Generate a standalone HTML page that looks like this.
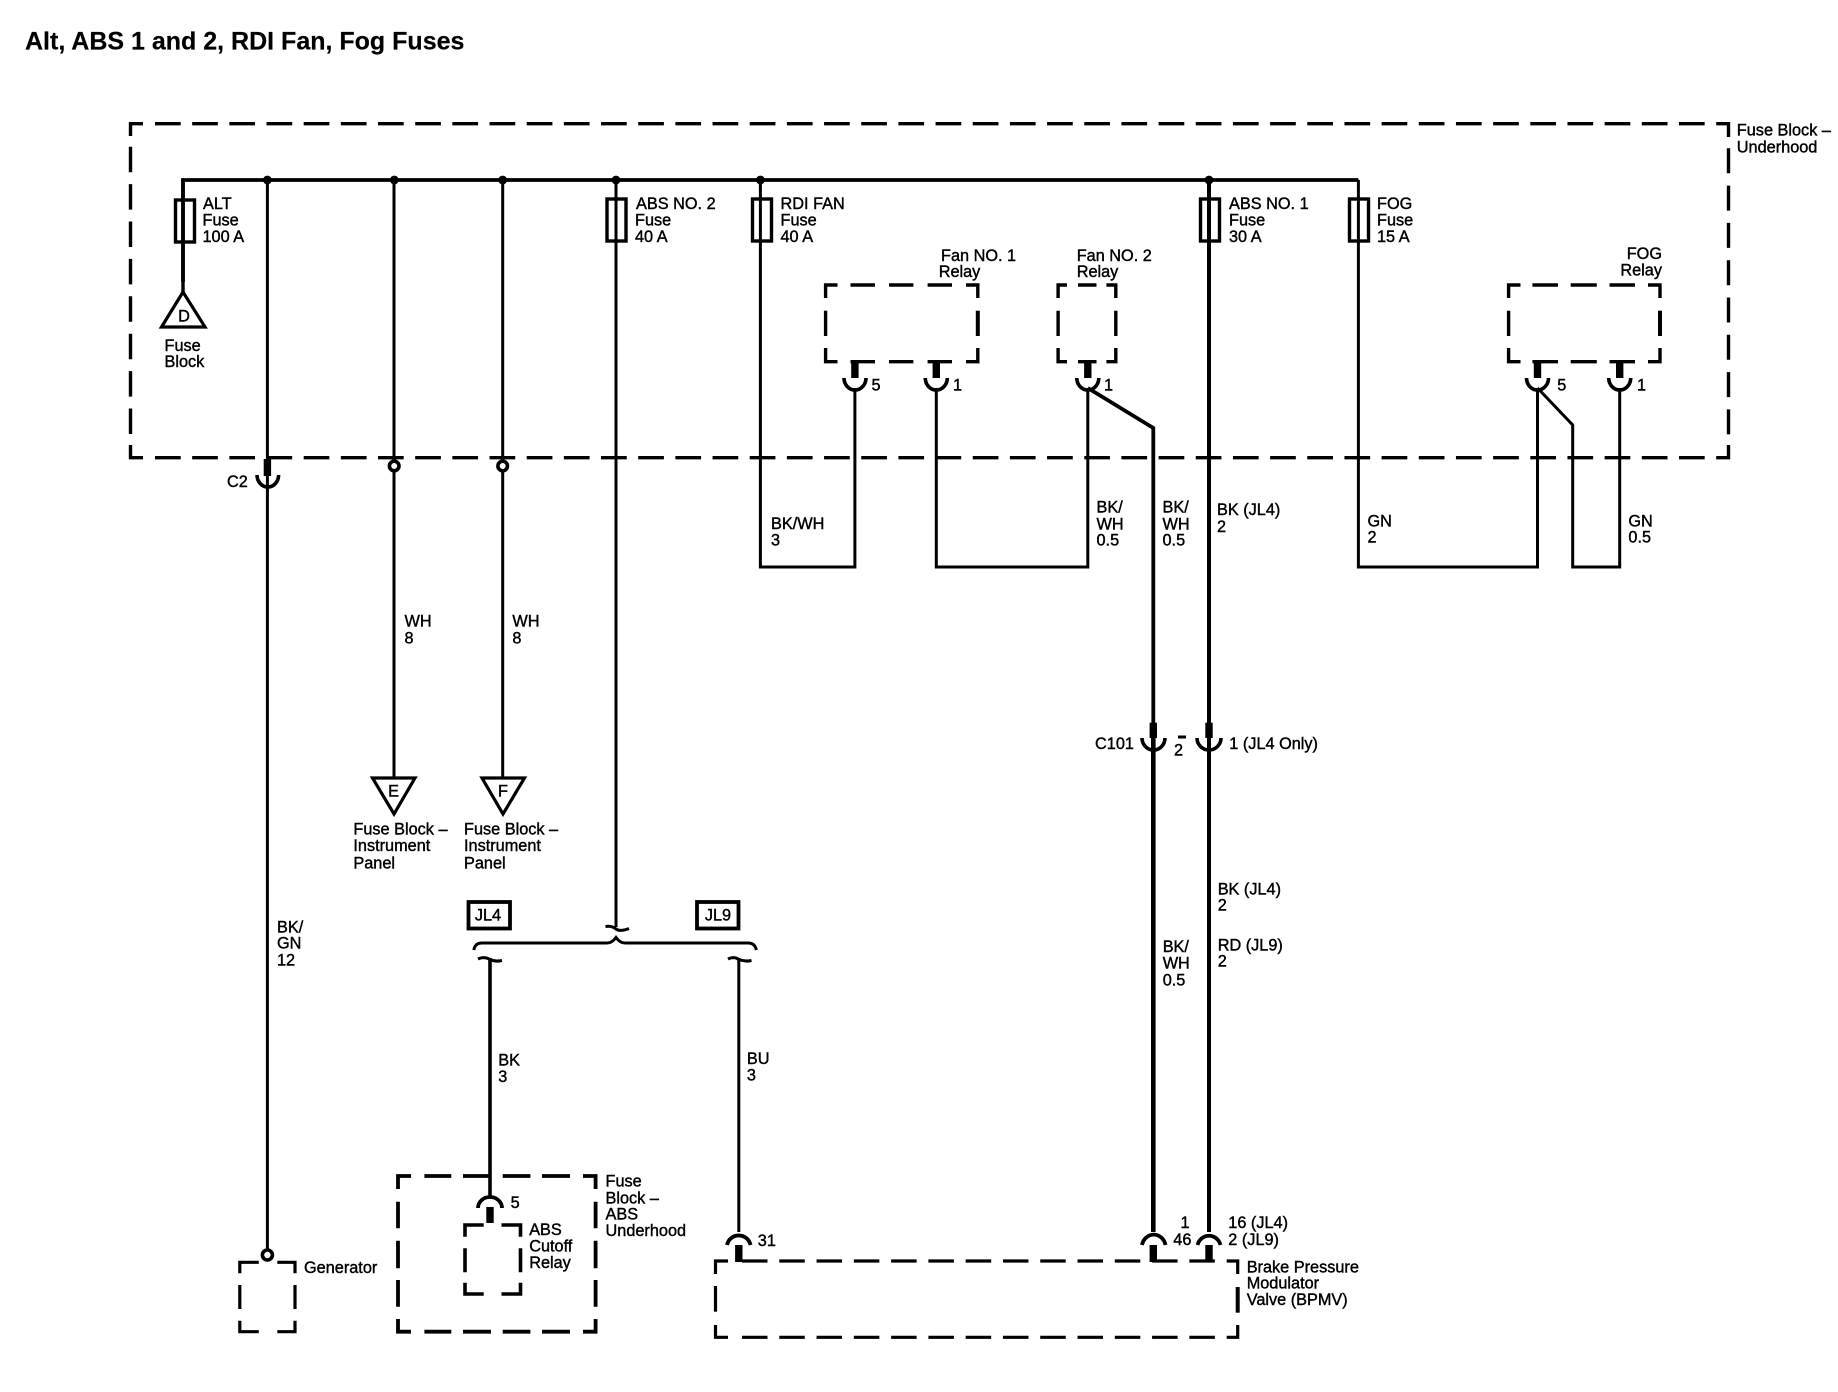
<!DOCTYPE html>
<html><head><meta charset="utf-8"><style>
html,body{margin:0;padding:0;background:#fff}
svg{display:block}
text{font-family:"Liberation Sans",sans-serif;font-size:16.3px;fill:#000;stroke:#000;stroke-width:.4px}
.t{font-size:25px;font-weight:bold;stroke-width:.2px}
.m{text-anchor:middle}
.e{text-anchor:end}
</style></head><body>
<svg width="1838" height="1392" viewBox="0 0 1838 1392" xmlns="http://www.w3.org/2000/svg">
<rect width="1838" height="1392" fill="#fff"/>
<text class="t" x="25" y="49.5">Alt, ABS 1 and 2, RDI Fan, Fog Fuses</text>

<g fill="none" stroke="#000" stroke-linecap="butt" stroke-linejoin="miter">
<!-- outer dashed box -->
<g stroke-width="3.4">
<path d="M143 123.7H130.5V136"/>
<path d="M155 123.7H1716" stroke-dasharray="25.7 11.47"/>
<path d="M1716.2 123.7H1728.5V137"/>
<path d="M1728.5 148.3V445" stroke-dasharray="25 12.3"/>
<path d="M1728.5 445V457.7H1716.2"/>
<path d="M155 457.7H1716" stroke-dasharray="25.7 11.47"/>
<path d="M143 457.7H130.5V445"/>
<path d="M130.5 146.7V445" stroke-dasharray="25.5 11.9"/>
</g>
<!-- Fan 1 relay -->
<g stroke-width="3.4">
<path d="M837.5 285H825.6V298M850.5 285H875M889 285H913.4M927.6 285H952M966 285H977.8V298"/>
<path d="M837.5 361.7H825.6V348M850.5 361.7H875M889 361.7H913.4M927.6 361.7H952M966 361.7H977.8V348"/>
<path d="M825.6 310.7V336"/><path d="M977.8 310.7V336" stroke-width="4"/>
</g>
<!-- Fan 2 relay -->
<g stroke-width="3.4">
<path d="M1067 285H1058.1V298M1078 285H1096.5M1106.4 285H1115.8V298"/>
<path d="M1067 361.7H1058.1V348M1078 361.7H1096.5M1106.4 361.7H1115.8V348"/>
<path d="M1058.1 310.7V336M1115.8 310.7V336"/>
</g>
<!-- FOG relay -->
<g stroke-width="3.4">
<path d="M1520.5 285H1508.6V298M1532.4 285H1558M1570.7 285H1596.8M1609.5 285H1635M1648 285H1660V298"/>
<path d="M1520.5 361.7H1508.6V348M1532.4 361.7H1558M1570.7 361.7H1596.8M1609.5 361.7H1635M1648 361.7H1660V348"/>
<path d="M1508.6 310.7V336"/><path d="M1660 310.7V336" stroke-width="4"/>
</g>
<!-- Generator box -->
<g stroke-width="3.2">
<path d="M258.8 1262.3H239.8V1273.3M277.3 1262.3H295V1273.3"/>
<path d="M239.8 1285V1309M295 1285V1309"/>
<path d="M258.8 1331.7H239.8V1320.7M277.3 1331.7H295V1320.7"/>
</g>
<!-- Fuse Block ABS box -->
<g stroke-width="3.8">
<path d="M411 1176H398V1189M424.4 1176H451.3M463 1176H491M502.7 1176H530.4M542 1176H570M583 1176H595.6V1189"/>
<path d="M398 1201.7V1228.3M398 1240.7V1268.3M398 1280V1306.7M595.6 1201.7V1228.3M595.6 1240.7V1268.3M595.6 1280V1306.7"/>
<path d="M411 1331.7H398V1319M424.4 1331.7H451.3M463 1331.7H491M502.7 1331.7H530.4M542 1331.7H570M583 1331.7H595.6V1319"/>
</g>
<!-- ABS Cutoff relay box -->
<g stroke-width="3.6">
<path d="M483.7 1225H465V1236.7M501.5 1225H520.5V1236.7"/>
<path d="M465 1248.3V1272.3M520.5 1248.3V1272.3"/>
<path d="M483.7 1294H465V1282.7M501.5 1294H520.5V1282.7"/>
</g>
<!-- BPMV box -->
<g stroke-width="3.2">
<path d="M728 1261H715.5V1274M1226.7 1261H1237.7V1274"/>
<path d="M742 1261H1215" stroke-dasharray="25.5 11.78"/>
<path d="M715.5 1286V1311.7"/>
<path d="M1237.7 1287V1312.7" stroke-width="4"/>
<path d="M728 1337.3H715.5V1325M1226.7 1337.3H1237.7V1325"/>
<path d="M742 1337.3H1215" stroke-dasharray="25.5 11.78"/>
</g>

<!-- bus -->
<path d="M183 282V180H1358.4" stroke-width="3.8"/>
<path d="M183 180V292" stroke-width="3.4"/>
<!-- wires -->
<g stroke-width="3">
<path d="M267.4 180V1250"/>
<path d="M394 180V777"/>
<path d="M502.7 180V777"/>
<path d="M616 180V927"/>
<path d="M760.4 180V567H854.9V388"/>
<path d="M936.3 388V567H1087.8V388"/>
<path d="M1358.4 180V567H1537.5V388"/>
<path d="M1619.7 388V567H1572.7V425L1537.5 388"/>
</g>
<path d="M1087.8 388L1153.3 428V725" stroke-width="3.8"/>
<path d="M1153.3 725V1232" stroke-width="4.6"/>
<path d="M1209 180V1232" stroke-width="4"/>
<path d="M490 958V1197" stroke-width="3.6"/>
<path d="M738.8 958V1232" stroke-width="3"/>

<!-- fuses -->
<g stroke-width="3.4" fill="none">
<rect x="175.5" y="200" width="19" height="42"/>
<rect x="607" y="199" width="19" height="42"/>
<rect x="752.5" y="199" width="19" height="42"/>
<rect x="1200.5" y="199" width="19" height="42"/>
<rect x="1349.5" y="199" width="19" height="42"/>
</g>

<!-- triangles -->
<g stroke-width="3.2" fill="#fff">
<path d="M183 292L161.5 327H205Z"/>
<path d="M372.5 778H415L394 814Z"/>
<path d="M482 778H524.5L503 814Z"/>
</g>

<!-- splices -->
<g fill="#000" stroke="none">
<circle cx="267.4" cy="180" r="4.4"/><circle cx="394.3" cy="180" r="4.4"/>
<circle cx="502.7" cy="180" r="4.4"/><circle cx="616" cy="180" r="4.4"/>
<circle cx="760.4" cy="180" r="4.4"/><circle cx="1209" cy="180" r="4.4"/>
</g>

<!-- round terminals -->
<g stroke-width="3.6" fill="#fff">
<circle cx="394.2" cy="466" r="4.8"/>
<circle cx="502.7" cy="466" r="4.8"/>
<circle cx="267.4" cy="1255" r="5"/>
</g>

<!-- pin stubs -->
<g stroke-width="7.4">
<path d="M267.4 459V476"/>
<path d="M854.9 363V378"/><path d="M936.3 363V378"/><path d="M1087.8 363V378"/>
<path d="M1537.5 363V378"/><path d="M1619.7 363V378"/>
<path d="M1153.3 722.7V738"/><path d="M1209 722.7V738"/>
<path d="M490 1207V1223"/><path d="M738.8 1245V1262"/>
<path d="M1153.3 1245V1262"/><path d="M1209 1245V1262"/>
</g>
<!-- cups opening upward -->
<g stroke-width="3.6">
<path d="M257 475A10.8 12 0 0 0 278.6 475"/>
<path d="M844 378A11 12 0 0 0 866 378"/>
<path d="M925.3 378A11 12 0 0 0 947.3 378"/>
<path d="M1076.8 378A11 12 0 0 0 1098.8 378"/>
<path d="M1526.5 378A11 12 0 0 0 1548.5 378"/>
<path d="M1608.7 378A11 12 0 0 0 1630.7 378"/>
<path d="M1142 738A11.5 12 0 0 0 1165 738"/>
<path d="M1197 738A12 12 0 0 0 1221 738"/>
</g>
<path d="M1178 737H1186" stroke-width="3"/>
<!-- cups opening downward -->
<g stroke-width="3.8">
<path d="M478 1208A12 11 0 0 1 502 1208"/>
<path d="M727 1245A12 12 0 0 1 750.5 1245"/>
<path d="M1142 1245A12 13 0 0 1 1165.5 1245"/>
<path d="M1197.5 1245A12 13 0 0 1 1220.5 1245"/>
</g>

<!-- JL bracket -->
<path d="M473.8 950Q475 943 482 943H607Q612 943 616 937.5Q620 943 625 943H748Q755 943 756.3 950" stroke-width="3"/>
<path d="M605.5 926.5Q612 925.5 616 929Q620 932 629 928.5" stroke-width="3"/>
<path d="M478 959Q484 956 490 959.5Q495 962 502 960.5" stroke-width="3"/>
<path d="M728 959Q734 956 739 959.5Q745 962 751.5 960.5" stroke-width="3"/>
<rect x="468.5" y="902" width="41.5" height="26.5" stroke-width="3.8"/>
<rect x="697" y="902" width="41.5" height="26.5" stroke-width="3.8"/>
</g>

<!-- labels -->
<text x="203" y="209">ALT</text><text x="202.5" y="225.5">Fuse</text><text x="202.5" y="242">100 A</text>
<text x="184" y="321.5" class="m">D</text>
<text x="164.5" y="351">Fuse</text><text x="164.5" y="367">Block</text>
<text x="227" y="487">C2</text>
<text x="636" y="209">ABS NO. 2</text><text x="635" y="225.5">Fuse</text><text x="635" y="242">40 A</text>
<text x="780.5" y="209">RDI FAN</text><text x="780.5" y="225.5">Fuse</text><text x="780.5" y="242">40 A</text>
<text x="1229" y="209">ABS NO. 1</text><text x="1229" y="225.5">Fuse</text><text x="1229" y="242">30 A</text>
<text x="1377" y="209">FOG</text><text x="1377" y="225.5">Fuse</text><text x="1377" y="242">15 A</text>
<text x="941" y="261">Fan NO. 1</text><text x="938.7" y="277">Relay</text>
<text x="1076.7" y="261">Fan NO. 2</text><text x="1076.7" y="277">Relay</text>
<text x="1662" y="259" class="e">FOG</text><text x="1662" y="275.7" class="e">Relay</text>
<text x="1736.8" y="135.7">Fuse Block –</text><text x="1736.8" y="152.3">Underhood</text>
<text x="871.5" y="390.5">5</text><text x="953" y="390.5">1</text><text x="1104" y="390.5">1</text>
<text x="1557.3" y="390.5">5</text><text x="1637" y="390.5">1</text>
<text x="771" y="529">BK/WH</text><text x="771" y="545.7">3</text>
<text x="1096.5" y="512.7">BK/</text><text x="1096.5" y="529.3">WH</text><text x="1096.5" y="545.7">0.5</text>
<text x="1162.5" y="512.7">BK/</text><text x="1162.5" y="529.3">WH</text><text x="1162.5" y="545.7">0.5</text>
<text x="1217" y="515">BK (JL4)</text><text x="1217" y="532">2</text>
<text x="1367.5" y="526.7">GN</text><text x="1367.5" y="542.7">2</text>
<text x="1628.4" y="526.7">GN</text><text x="1628.4" y="542.7">0.5</text>
<text x="404.5" y="626.5">WH</text><text x="404.5" y="643.3">8</text>
<text x="512.4" y="626.5">WH</text><text x="512.4" y="643.3">8</text>
<text x="1095" y="749">C101</text><text x="1174" y="755.7">2</text><text x="1229.3" y="749">1 (JL4 Only)</text>
<text x="393.5" y="796.7" class="m">E</text><text x="503" y="796.7" class="m">F</text>
<text x="353.4" y="834.3">Fuse Block –</text><text x="353.4" y="851">Instrument</text><text x="353.4" y="868.3">Panel</text>
<text x="464" y="834.3">Fuse Block –</text><text x="464" y="851">Instrument</text><text x="464" y="868.3">Panel</text>
<text x="488" y="920.5" class="m">JL4</text><text x="718" y="920.5" class="m">JL9</text>
<text x="277" y="932.3">BK/</text><text x="277" y="948.7">GN</text><text x="277" y="965.7">12</text>
<text x="1217.7" y="894.3">BK (JL4)</text><text x="1217.7" y="910.7">2</text>
<text x="1217.7" y="950.7">RD (JL9)</text><text x="1217.7" y="966.7">2</text>
<text x="1162.7" y="952">BK/</text><text x="1162.7" y="968.7">WH</text><text x="1162.7" y="985.7">0.5</text>
<text x="498.3" y="1065.5">BK</text><text x="498.3" y="1082">3</text>
<text x="746.9" y="1064">BU</text><text x="746.9" y="1080.5">3</text>
<text x="605.5" y="1186.7">Fuse</text><text x="605.5" y="1203.3">Block –</text><text x="605.5" y="1219.3">ABS</text><text x="605.5" y="1236">Underhood</text>
<text x="510.6" y="1208">5</text>
<text x="529.2" y="1235">ABS</text><text x="529.2" y="1251.7">Cutoff</text><text x="529.2" y="1268">Relay</text>
<text x="304" y="1273">Generator</text>
<text x="757.8" y="1246">31</text>
<text x="1180.5" y="1228">1</text><text x="1173.3" y="1245">46</text>
<text x="1228.3" y="1228">16 (JL4)</text><text x="1228.3" y="1245">2 (JL9)</text>
<text x="1246.7" y="1272.3">Brake Pressure</text><text x="1246.7" y="1288.7">Modulator</text><text x="1246.7" y="1305">Valve (BPMV)</text>
</svg>
</body></html>
